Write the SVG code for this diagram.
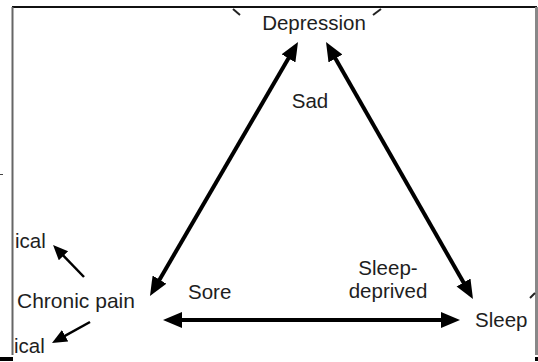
<svg xmlns="http://www.w3.org/2000/svg" width="538" height="362" viewBox="0 0 538 362">
<style>
.t{font-family:"Liberation Sans",Arial,sans-serif;font-size:20.5px;fill:#1e1e1e}
.big{stroke:#000;stroke-width:4;fill:none}
.sm{stroke:#000;stroke-width:2.5;fill:none}
.frag{stroke:#222;stroke-width:2;fill:none}
</style>
<defs>
<marker id="ah" markerUnits="userSpaceOnUse" markerWidth="22" markerHeight="18" refX="9" refY="8" orient="auto-start-reverse">
<path d="M0,0 L19,8 L0,16 z" fill="#000"/>
</marker>
<marker id="as" markerUnits="userSpaceOnUse" markerWidth="17" markerHeight="15" refX="7" refY="6.5" orient="auto">
<path d="M0,0 L15,6.5 L0,13 z" fill="#000"/>
</marker>
</defs>
<rect width="538" height="362" fill="#fff"/>
<g id="frame">
<line x1="12" y1="7" x2="537" y2="7" stroke="#111" stroke-width="2"/>
<line x1="12.5" y1="7" x2="12.5" y2="355" stroke="#666" stroke-width="2"/>
<line x1="536.5" y1="7" x2="536.5" y2="355" stroke="#888" stroke-width="3"/>
<rect x="0" y="357" width="13" height="4" fill="#000"/>
<rect x="535" y="357" width="3" height="4" fill="#000"/>
<line x1="0" y1="174.5" x2="3" y2="174.5" stroke="#444" stroke-width="1"/>
</g>
<g id="connectors">
<line class="big" x1="293" y1="50.6" x2="155" y2="287.4" marker-start="url(#ah)" marker-end="url(#ah)"/>
<line class="big" x1="331" y1="50.7" x2="468" y2="290.3" marker-start="url(#ah)" marker-end="url(#ah)"/>
<line class="big" x1="173" y1="320" x2="450" y2="320" marker-start="url(#ah)" marker-end="url(#ah)"/>
<line class="sm" x1="84" y1="277" x2="58.6" y2="250.7" marker-end="url(#as)"/>
<line class="sm" x1="90" y1="322" x2="59" y2="339.1" marker-end="url(#as)"/>
<line class="frag" x1="233" y1="9" x2="240" y2="15"/>
<line class="frag" x1="373" y1="15" x2="381" y2="9"/>
<line class="frag" x1="530" y1="298" x2="535" y2="293"/>
</g>
<g id="depression"><text class="t" x="314" y="30" text-anchor="middle">Depression</text></g>
<g id="sad"><text class="t" x="310" y="108" text-anchor="middle">Sad</text></g>
<g id="chronic-pain"><text class="t" x="17" y="308" style="font-size:21px">Chronic pain</text></g>
<g id="sore"><text class="t" x="188" y="299">Sore</text></g>
<g id="sleep-deprived"><text class="t" x="388" y="275" text-anchor="middle">Sleep-</text><text class="t" x="388" y="298" text-anchor="middle">deprived</text></g>
<g id="sleep"><text class="t" x="475" y="327">Sleep</text></g>
<g id="ical-top"><text class="t" x="15" y="248">ical</text></g>
<g id="ical-bottom"><text class="t" x="14" y="353">ical</text></g>
</svg>
